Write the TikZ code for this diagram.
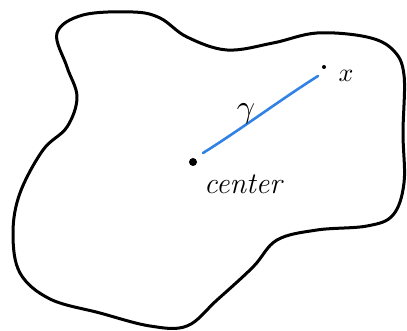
\documentclass[tikz,border=0pt]{standalone}
\begin{document}
\begin{tikzpicture}[x=1pt,y=-1pt,
  blob/.style={line width=3pt,line cap=round,line join=round},
  pathline/.style={line width=2.6pt,color={rgb,255:red,50;green,130;blue,230},line cap=round},
  dotmark/.style={circle,fill=black,inner sep=0pt,minimum size=8pt},
  lbl/.style={inner sep=0pt,font=\fontsize{30}{32}\selectfont\itshape},
  mlbl/.style={inner sep=0pt,transform shape=false}]
\useasboundingbox (0,0) rectangle (407,331);
\draw[blob] plot[smooth cycle,tension=0.6] coordinates {
 (57,33) (83,15) (133,12) (160,18) (187,37) (227,50) (273,43) (317,33)
 (367,37) (393,50) (404,75) (403,133) (404,183) (393,215) (367,226)
 (317,230) (277,240) (253,267) (217,300) (187,326) (150,326) (100,313)
 (50,299) (20,273) (13,233) (20,193) (43,150) (67,127) (77,97) (67,67)};
\node[dotmark] (c) at (193,162) {};
\node[dotmark,minimum size=4pt] (xd) at (324,67) {};
\coordinate (a) at (203,153);
\coordinate (b) at (318,76);
\draw[pathline] (a) .. controls (240,130) and (280,100) .. (b);
\node[mlbl] (g) at (246,114) {\scalebox{3.2}{$\gamma$}};
\node[mlbl] (xl) at (346,76) {\scalebox{2.6}{$x$}};
\node[lbl] (cl) at (243,184) {center};
\end{tikzpicture}
\end{document}
